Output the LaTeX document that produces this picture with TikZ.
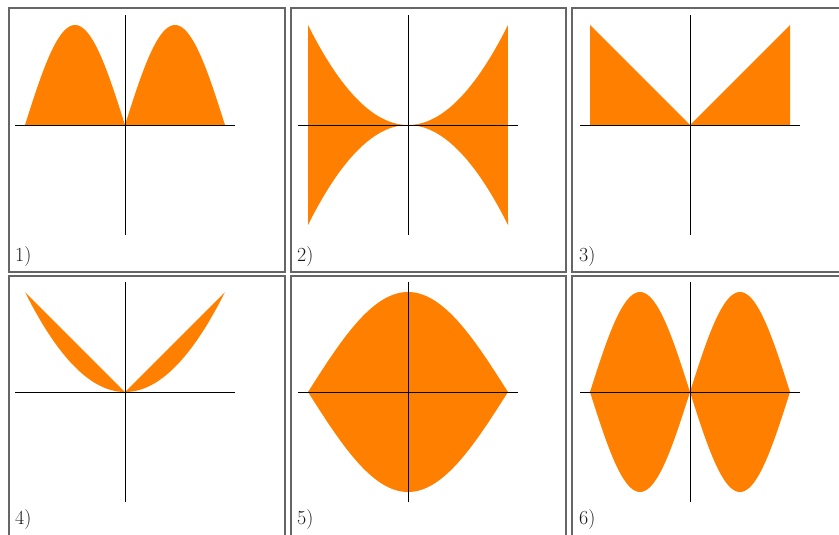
\documentclass[tikz,border=0pt]{standalone}
\usepackage{tikz}
\usetikzlibrary{positioning}
\definecolor{areaorange}{RGB}{255,128,0}

\begin{document}
\begin{tikzpicture}[x=1pt,y=-1pt,
  cell/.style={draw=black!60,line width=1.4pt},
  region/.style={fill=areaorange},
  axis/.style={draw=black,line width=0.9pt},
  curve/.style={domain=-1:1,samples=101},
  tag/.style={anchor=base west,inner sep=0pt,text=black!90,font=\fontsize{20}{24}\selectfont}]
\useasboundingbox (0,0) rectangle (839,535);
% frames of the six cells
\draw[cell] (9,8) rectangle (285,272);
\draw[cell] (291,8) rectangle (566,272);
\draw[cell] (572,8) rectangle (848,272);
\draw[cell] (9,276) rectangle (285,540);
\draw[cell] (291,276) rectangle (566,540);
\draw[cell] (572,276) rectangle (848,540);
% 1) |sin|
\begin{scope}[shift={(125,125)},x=100pt,y=100pt]
\fill[region] (-1,0) -- plot[curve] (\x,{abs(sin(180*\x))}) -- (1,0) -- cycle;
\draw[axis] (-1.1,0) -- (1.1,0);
\draw[axis] (0,-1.1) -- (0,1.1);
\end{scope}
% 2) between x^2 and -x^2
\begin{scope}[shift={(408,125)},x=100pt,y=100pt]
\fill[region] plot[curve] (\x,{\x*\x}) -- plot[domain=1:-1,samples=101] (\x,{-\x*\x}) -- cycle;
\draw[axis] (-1.1,0) -- (1.1,0);
\draw[axis] (0,-1.1) -- (0,1.1);
\end{scope}
% 3) |x|
\begin{scope}[shift={(690,125)},x=100pt,y=100pt]
\fill[region] (-1,0) -- (-1,1) -- (0,0) -- (1,1) -- (1,0) -- cycle;
\draw[axis] (-1.1,0) -- (1.1,0);
\draw[axis] (0,-1.1) -- (0,1.1);
\end{scope}
% 4) between |x| and x^2
\begin{scope}[shift={(125,392)},x=100pt,y=100pt]
\fill[region] (-1,1) -- (0,0) -- (1,1) -- plot[domain=1:-1,samples=101] (\x,{\x*\x}) -- cycle;
\draw[axis] (-1.1,0) -- (1.1,0);
\draw[axis] (0,-1.1) -- (0,1.1);
\end{scope}
% 5) between cos and -cos
\begin{scope}[shift={(408,392)},x=100pt,y=100pt]
\fill[region] plot[curve] (\x,{cos(90*\x)}) -- plot[domain=1:-1,samples=101] (\x,{-cos(90*\x)}) -- cycle;
\draw[axis] (-1.1,0) -- (1.1,0);
\draw[axis] (0,-1.1) -- (0,1.1);
\end{scope}
% 6) between |sin| and -|sin|
\begin{scope}[shift={(690,392)},x=100pt,y=100pt]
\fill[region] plot[curve] (\x,{abs(sin(180*\x))}) -- plot[domain=1:-1,samples=101] (\x,{-abs(sin(180*\x))}) -- cycle;
\draw[axis] (-1.1,0) -- (1.1,0);
\draw[axis] (0,-1.1) -- (0,1.1);
\end{scope}
% labels
\node[tag] (lab1) at (15,261) {1)};
\node[tag] (lab2) at (297,261) {2)};
\node[tag] (lab3) at (579,261) {3)};
\node[tag] (lab4) at (15,524) {4)};
\node[tag] (lab5) at (297,524) {5)};
\node[tag] (lab6) at (579,524) {6)};
\end{tikzpicture}
\end{document}
